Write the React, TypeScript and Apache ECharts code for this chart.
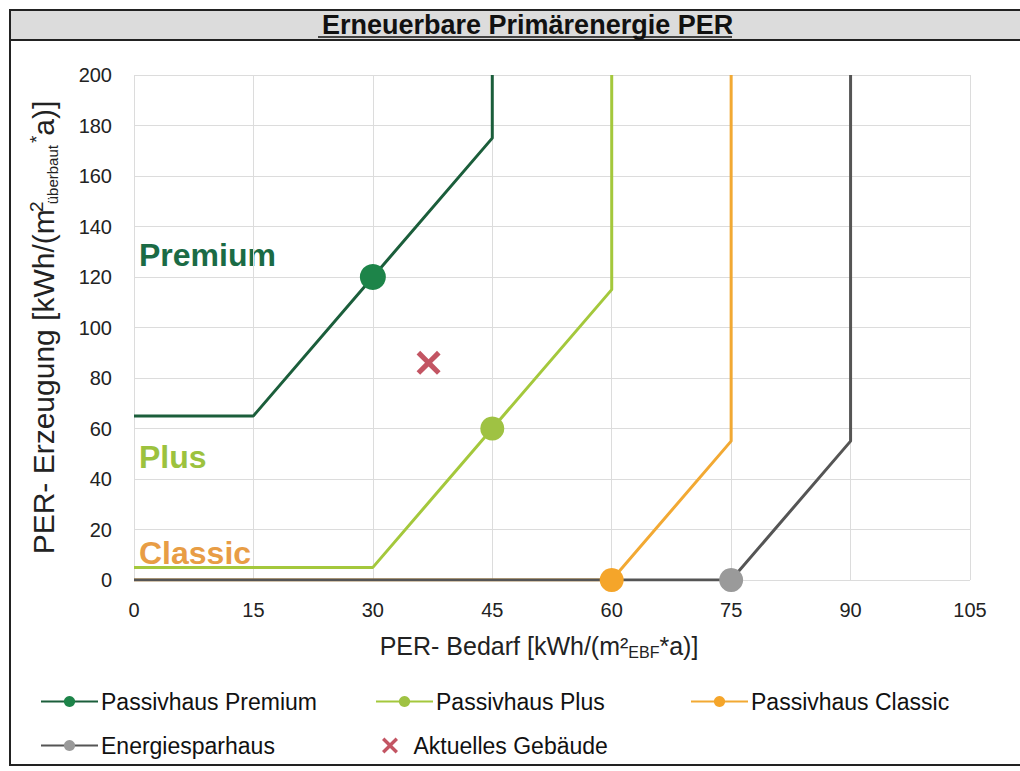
import React, { useEffect, useRef } from "react";
import * as echarts from "echarts";

const titleText = "Erneuerbare Primärenergie PER";
const xTicks = [0, 15, 30, 45, 60, 75, 90, 105];
const yTicks = [0, 20, 40, 60, 80, 100, 120, 140, 160, 180, 200];

const premiumX = [0, 15, 30, 45, 45];
const premiumY = [65, 65, 120, 175, 200];
const premiumMarker = 2;

const plusX = [0, 30, 45, 60, 60];
const plusY = [5, 5, 60, 115, 200];
const plusMarker = 2;

const classicX = [0, 60, 75, 75];
const classicY = [0, 0, 55, 200];
const classicMarker = 1;

const energieX = [0, 75, 90, 90];
const energieY = [0, 0, 55, 200];
const energieMarker = 1;

const currentBuilding = [37, 86];

const seriesNames = [
  "Passivhaus Premium",
  "Passivhaus Plus",
  "Passivhaus Classic",
  "Energiesparhaus",
  "Aktuelles Gebäude",
];

const FONT = "Liberation Sans, Arial, sans-serif";
const XPATH =
  "path://M3,0 L10,7 L17,0 L20,3 L13,10 L20,17 L17,20 L10,13 L3,20 L0,17 L7,10 L0,3 Z";

function buildData(xs: number[], ys: number[], marker: number) {
  return xs.map((x, i) => ({
    value: [x, ys[i]],
    symbolSize: i === marker ? undefined : 0,
  }));
}

export default function App() {
  const ref = useRef<HTMLDivElement>(null);
  useEffect(() => {
    if (!ref.current) return;
    const chart = echarts.init(ref.current, null, { renderer: "svg" });
    const lineSeries = (
      name: string,
      xs: number[],
      ys: number[],
      marker: number,
      lineColor: string,
      markColor: string,
      size: number
    ) => ({
      type: "line",
      name,
      data: buildData(xs, ys, marker),
      symbol: "circle",
      symbolSize: size,
      showAllSymbol: true,
      lineStyle: { color: lineColor, width: 3 },
      itemStyle: { color: markColor },
      emphasis: { disabled: true },
    });
    const legendItem = (name: string, left: number, top: number, w = 57, padLeft = -2) => ({
      data: [name],
      left,
      top,
      itemWidth: w,
      itemHeight: 14,
      selectedMode: false,
      textStyle: { fontFamily: FONT, fontSize: 23, color: "#111", padding: [0, 0, 0, padLeft] },
    });
    chart.setOption({
      animation: false,
      backgroundColor: "#ffffff",
      title: {
        text: titleText,
        left: 317,
        top: 6,
        z: 10,
        textStyle: { fontFamily: FONT, fontSize: 27, fontWeight: "bold", color: "#111" },
      },
      graphic: [
        {
          type: "rect",
          shape: { x: 10, y: 10, width: 1020, height: 755 },
          style: { fill: "none", stroke: "#222", lineWidth: 2 },
          silent: true,
        },
        {
          type: "rect",
          z: -1,
          shape: { x: 10, y: 10, width: 1020, height: 30 },
          style: { fill: "#dcdcdc", stroke: "#222", lineWidth: 2 },
          silent: true,
        },
        {
          type: "line",
          shape: { x1: 318, y1: 37, x2: 732, y2: 37 },
          style: { stroke: "#111", lineWidth: 1.5 },
          silent: true,
        },
        {
          type: "text",
          left: 139,
          top: 239,
          style: { text: "Premium", fill: "#1b6b45", fontFamily: FONT, fontSize: 32, fontWeight: "bold" },
          silent: true,
        },
        {
          type: "text",
          left: 139,
          top: 441,
          style: { text: "Plus", fill: "#9cc23e", fontFamily: FONT, fontSize: 32, fontWeight: "bold" },
          silent: true,
        },
        {
          type: "text",
          left: 139,
          top: 537,
          z: 0,
          style: { text: "Classic", fill: "#e89d45", fontFamily: FONT, fontSize: 32, fontWeight: "bold" },
          silent: true,
        },
      ],
      grid: { left: 134, right: 50, top: 75, bottom: 191 },
      xAxis: {
        type: "value",
        min: xTicks[0],
        max: xTicks[xTicks.length - 1],
        interval: 15,
        name: "PER- Bedarf [kWh/(m²{sub|EBF}*a)]",
        nameLocation: "middle",
        nameGap: 52,
        nameTextStyle: {
          fontFamily: FONT,
          fontSize: 25,
          color: "#222",
          padding: [0, 26, 0, 0],
          rich: { sub: { fontFamily: FONT, fontSize: 16, color: "#222", verticalAlign: "bottom", padding: [12, 0, 0, 0] } },
        },
        axisLine: { show: false },
        axisTick: { show: false },
        axisLabel: { fontFamily: FONT, fontSize: 20, color: "#222", margin: 20 },
        splitLine: { show: true, lineStyle: { color: "#dcdcdc", width: 1 } },
      },
      yAxis: {
        type: "value",
        min: yTicks[0],
        max: yTicks[yTicks.length - 1],
        interval: 20,
        name: "PER- Erzeugung [kWh/(m{two|2}{sub|überbaut}{sup|*}a)]",
        nameLocation: "middle",
        nameGap: 74,
        nameTextStyle: {
          fontFamily: FONT,
          fontSize: 30,
          color: "#222",
          rich: {
            two: { fontFamily: FONT, fontSize: 19, color: "#222", verticalAlign: "top", padding: [0, 0, 14, 2], width: 1, align: "left" },
            sup: { fontFamily: FONT, fontSize: 19, color: "#222", verticalAlign: "top", padding: [0, 0, 14, 0] },
            sub: { fontFamily: FONT, fontSize: 15, color: "#222", verticalAlign: "bottom", padding: [14, 2, 0, 2] },
          },
        },
        axisLine: { show: false },
        axisTick: { show: false },
        axisLabel: { fontFamily: FONT, fontSize: 20, color: "#222", margin: 22 },
        splitLine: { show: true, lineStyle: { color: "#dcdcdc", width: 1 } },
      },
      legend: [
        legendItem(seriesNames[0], 35, 685),
        legendItem(seriesNames[1], 370, 685),
        legendItem(seriesNames[2], 685, 685),
        legendItem(seriesNames[3], 35, 729),
        { ...legendItem(seriesNames[4], 377, 729, 17, 10), itemHeight: 16 },
      ],
      series: [
        lineSeries(seriesNames[2], classicX, classicY, classicMarker, "#f2a933", "#f5a52a", 24),
        lineSeries(seriesNames[3], energieX, energieY, energieMarker, "#555555", "#9a9a9a", 24),
        lineSeries(seriesNames[1], plusX, plusY, plusMarker, "#a4c83c", "#9fc243", 24),
        lineSeries(seriesNames[0], premiumX, premiumY, premiumMarker, "#1b5e3b", "#1d8449", 26),
        {
          type: "scatter",
          name: seriesNames[4],
          data: [currentBuilding],
          symbol: XPATH,
          symbolSize: 24,
          itemStyle: { color: "#b42b3c" },
          emphasis: { disabled: true },
        },
      ],
    });
    return () => chart.dispose();
  }, []);
  return (
    <div
      ref={ref}
      style={{ position: "absolute", left: 0, top: 0, width: 1020, height: 771 }}
    />
  );
}
